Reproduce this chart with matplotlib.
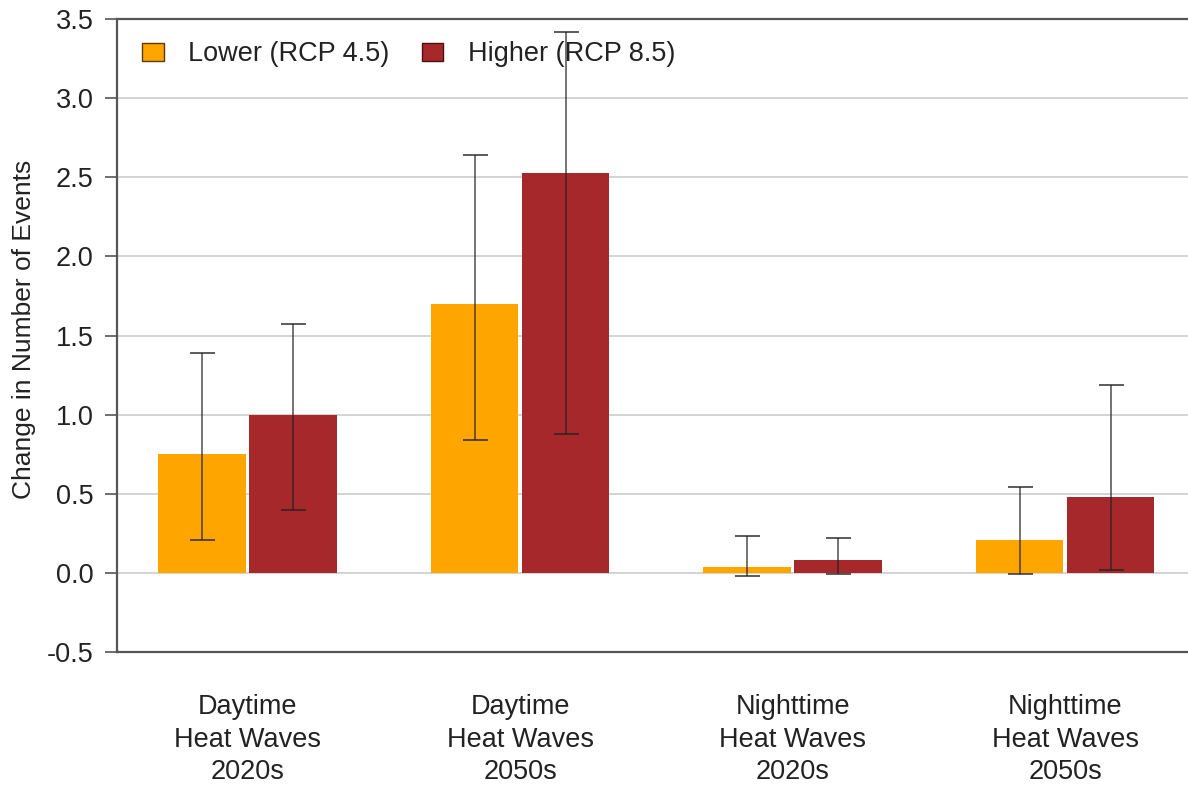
import matplotlib
matplotlib.use("Agg")
import matplotlib.pyplot as plt
from matplotlib.patches import Rectangle
import numpy as np

plt.rcParams['font.family'] = ['Liberation Sans', 'DejaVu Sans']
plt.rcParams['axes.unicode_minus'] = False

categories = ["Daytime\nHeat Waves\n2020s", "Daytime\nHeat Waves\n2050s",
              "Nighttime\nHeat Waves\n2020s", "Nighttime\nHeat Waves\n2050s"]
series_names = ["Lower (RCP 4.5)", "Higher (RCP 8.5)"]

lower_vals = [0.75, 1.70, 0.04, 0.21]
lower_err_low = [0.21, 0.84, -0.02, -0.01]
lower_err_high = [1.39, 2.64, 0.23, 0.54]

higher_vals = [1.00, 2.53, 0.08, 0.48]
higher_err_low = [0.40, 0.88, -0.01, 0.02]
higher_err_high = [1.57, 3.42, 0.22, 1.19]

yticks = [-0.5, 0.0, 0.5, 1.0, 1.5, 2.0, 2.5, 3.0, 3.5]

colors = ["#FFA500", "#A6282B"]
edge_colors = ["#5a3a00", "#4a0f10"]

W, H = 1188, 785
fig = plt.figure(figsize=(W / 100, H / 100), dpi=100)
ax = fig.add_axes([117 / W, 1 - 652 / H, (1188 - 117) / W, (652 - 19) / H])

x = np.arange(len(categories))
bw = 0.322
off = 0.167

for i, (vals, lo, hi) in enumerate([(lower_vals, lower_err_low, lower_err_high),
                                    (higher_vals, higher_err_low, higher_err_high)]):
    pos = x + (i - 0.5) * 2 * off
    vals = np.array(vals)
    lo = np.array(lo)
    hi = np.array(hi)
    ax.bar(pos, vals, width=bw, color=colors[i], edgecolor="none", zorder=2)
    ax.errorbar(pos, vals, yerr=[vals - lo, hi - vals], fmt="none",
                ecolor="#222222", alpha=0.8, elinewidth=1.1, capsize=9,
                capthick=1.3, zorder=3)

ax.set_xlim(-0.479, 3.451)
ax.set_ylim(-0.5, 3.5)
ax.set_yticks(yticks)
ax.set_yticklabels([f"{t:.1f}" for t in yticks])
ax.set_xticks(x)
ax.set_xticklabels(categories, linespacing=1.32)

for t in [0.0, 0.5, 1.0, 1.5, 2.0, 2.5, 3.0]:
    ax.axhline(t, color="#d4d4d4", lw=1.4, zorder=1)

for s in ["left", "bottom", "top"]:
    ax.spines[s].set_color("#555555")
    ax.spines[s].set_linewidth(1.6)
ax.spines["right"].set_visible(False)

ax.tick_params(axis="y", length=9, width=1.2, color="#555555", labelsize=19.5,
               pad=8, labelcolor="#222222")
ax.tick_params(axis="x", length=0, labelsize=19.5, pad=30.5, labelcolor="#222222")

ax.set_ylabel("Change in Number of Events", fontsize=19, color="#222222")
ax.yaxis.set_label_coords(-0.076, 0.51)

handles = [Rectangle((0, 0), 1, 1, facecolor=colors[i], edgecolor=edge_colors[i], lw=1.0)
           for i in range(2)]
ax.legend(handles, series_names, loc="upper left", bbox_to_anchor=(0.003, 0.999),
          ncol=2, frameon=False, fontsize=19.5, handlelength=0.8, handleheight=0.65,
          handletextpad=0.9, columnspacing=1.2, borderpad=0.3, labelcolor="#222222")

fig.savefig("out.png", dpi=100)
